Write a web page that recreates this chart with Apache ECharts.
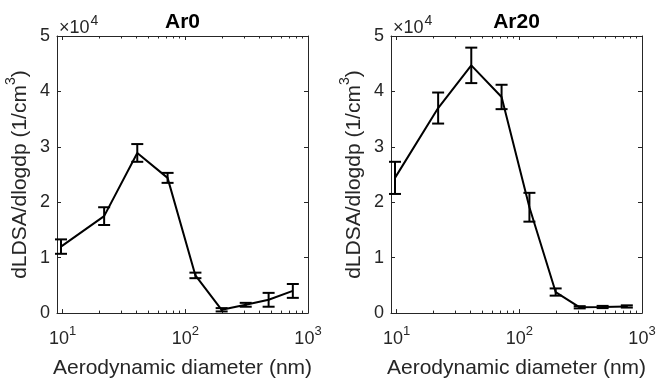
<!DOCTYPE html>
<html>
<head>
<meta charset="utf-8">
<script src="https://cdn.jsdelivr.net/npm/echarts@6/dist/echarts.min.js"></script>
<style>
  html, body { margin: 0; padding: 0; background: #fff; }
  #chart { width: 659px; height: 384px; }
</style>
</head>
<body>
<div id="chart"></div>
<script>
// ELPI stage mid diameters (nm)
const diameters = [9.7, 21.8, 40.6, 71.7, 120.9, 197.8, 310.7, 477.5, 752.2];
const ar0Mean = [12000, 17500, 28900, 24400, 6800, 600, 1500, 2400, 4000];
const ar0Err = [1300, 1600, 1600, 900, 500, 300, 350, 1250, 1250];
const ar20Mean = [24400, 37000, 44700, 39000, 19100, 3800, 1050, 1100, 1200];
const ar20Err = [2900, 2800, 3200, 2200, 2600, 650, 200, 200, 200];
const xMajorTicks = [10, 100, 1000];

const FONT = "'Liberation Sans', Arial, sans-serif";
const AXIS_COLOR = "#262626";
const X_MIN = 9;
const X_MAX = 1000;

// minor ticks 20..90, 200..900
const xMinorTicks = [];
for (let dec = 10; dec < 1000; dec *= 10) {
  for (let k = 2; k <= 9; k++) xMinorTicks.push(dec * k);
}
const lg = (v) => Math.log10(v);

const makeXAxes = (gridIndex) => {
  const base = {
    gridIndex,
    type: "value",
    min: lg(X_MIN),
    max: lg(X_MAX),
    splitLine: { show: false },
  };
  return [
    {
      ...base,
      position: "bottom",
      axisLine: { show: true, lineStyle: { color: AXIS_COLOR, width: 1 } },
      axisTick: {
        show: true, inside: true, length: 4,
        customValues: xMajorTicks.map(lg),
        lineStyle: { color: AXIS_COLOR },
      },
      axisLabel: {
        show: true,
        margin: 12,
        fontSize: 18,
        lineHeight: 28,
        fontFamily: FONT,
        color: AXIS_COLOR,
        customValues: xMajorTicks.map(lg),
        formatter: (v) => "10{sup|" + Math.round(v) + "}",
        rich: {
          sup: { fontSize: 13, lineHeight: 16, verticalAlign: "top", fontFamily: FONT, color: AXIS_COLOR },
        },
      },
      name: "Aerodynamic diameter (nm)",
      nameLocation: "middle",
      nameGap: 37,
      nameTextStyle: { fontSize: 21, fontFamily: FONT, color: AXIS_COLOR },
    },
    {
      ...base,
      position: "bottom",
      axisLine: { show: false },
      axisTick: {
        show: true, inside: true, length: 2.5,
        customValues: xMinorTicks.map(lg),
        lineStyle: { color: AXIS_COLOR },
      },
      axisLabel: { show: false },
    },
    {
      ...base,
      position: "top",
      axisLine: { show: true, lineStyle: { color: AXIS_COLOR, width: 1 } },
      axisTick: {
        show: true, inside: true, length: 4,
        customValues: xMajorTicks.map(lg),
        lineStyle: { color: AXIS_COLOR },
      },
      axisLabel: { show: false },
    },
    {
      ...base,
      position: "top",
      axisLine: { show: false },
      axisTick: {
        show: true, inside: true, length: 2.5,
        customValues: xMinorTicks.map(lg),
        lineStyle: { color: AXIS_COLOR },
      },
      axisLabel: { show: false },
    },
  ];
};

const makeYAxes = (gridIndex, nameGap) => {
  const base = {
    gridIndex,
    type: "value",
    min: 0,
    max: 50000,
    interval: 10000,
    splitLine: { show: false },
    axisLine: { show: true, lineStyle: { color: AXIS_COLOR, width: 1 } },
    axisTick: { show: true, inside: true, length: 4, lineStyle: { color: AXIS_COLOR } },
  };
  return [
    {
      ...base,
      position: "left",
      axisLabel: {
        margin: 7,
        fontSize: 18,
        fontFamily: FONT,
        color: AXIS_COLOR,
        formatter: (v) => String(v / 10000),
      },
      name: "dLDSA/dlogdp (1/cm{sup|3})",
      nameLocation: "middle",
      nameGap,
      nameTextStyle: {
        fontSize: 21,
        lineHeight: 32,
        fontFamily: FONT,
        color: AXIS_COLOR,
        rich: {
          sup: { fontSize: 14, lineHeight: 10, verticalAlign: "top", fontFamily: FONT, color: AXIS_COLOR },
        },
      },
    },
    {
      ...base,
      position: "right",
      axisLabel: { show: false },
    },
  ];
};

const makeSeries = (idx, mean, err) => {
  const xi = idx * 4;
  const yi = idx * 2;
  return [
    {
      type: "line",
      xAxisIndex: xi,
      yAxisIndex: yi,
      data: diameters.map((d, i) => [lg(d), mean[i]]),
      symbol: "none",
      lineStyle: { color: "#000", width: 2 },
      z: 3,
    },
    {
      type: "custom",
      xAxisIndex: xi,
      yAxisIndex: yi,
      data: diameters.map((d, i) => [lg(d), mean[i] - err[i], mean[i] + err[i]]),
      renderItem: (params, api) => {
        const lo = api.coord([api.value(0), api.value(1)]);
        const hi = api.coord([api.value(0), api.value(2)]);
        const hw = 6;
        const style = { stroke: "#000", lineWidth: 2 };
        return {
          type: "group",
          children: [
            { type: "line", shape: { x1: lo[0], y1: lo[1], x2: hi[0], y2: hi[1] }, style },
            { type: "line", shape: { x1: lo[0] - hw, y1: lo[1], x2: lo[0] + hw, y2: lo[1] }, style },
            { type: "line", shape: { x1: hi[0] - hw, y1: hi[1], x2: hi[0] + hw, y2: hi[1] }, style },
          ],
        };
      },
      z: 4,
    },
  ];
};

const plainText = (text, x, y, font, fill, align) => ({
  type: "text",
  x,
  y,
  style: { text, font, fill, align, verticalAlign: "middle" },
});

// ×10^4 exponent marker above each y axis
const scaleText = (x) => [
  plainText("×10", x, 28, "18px " + FONT, AXIS_COLOR, "left"),
  plainText("4", x + 31.5, 21, "14px " + FONT, AXIS_COLOR, "left"),
];

const chartInstance = echarts.init(document.getElementById("chart"), null, { renderer: "canvas" });
const option = {
  animation: false,
  backgroundColor: "#fff",
  grid: [
    { left: 57, top: 36, width: 251, height: 286 },
    { left: 391, top: 36, width: 251, height: 285 },
  ],
  xAxis: [...makeXAxes(0), ...makeXAxes(1)],
  yAxis: [...makeYAxes(0, 11.5), ...makeYAxes(1, 17)],
  series: [
    ...makeSeries(0, ar0Mean, ar0Err),
    ...makeSeries(1, ar20Mean, ar20Err),
  ],
  graphic: [
    plainText("Ar0", 182.5, 22.5, "bold 21px " + FONT, "#000", "center"),
    plainText("Ar20", 516.5, 22.5, "bold 21px " + FONT, "#000", "center"),
    ...scaleText(59),
    ...scaleText(393),
  ],
};
chartInstance.setOption(option);
</script>
</body>
</html>
